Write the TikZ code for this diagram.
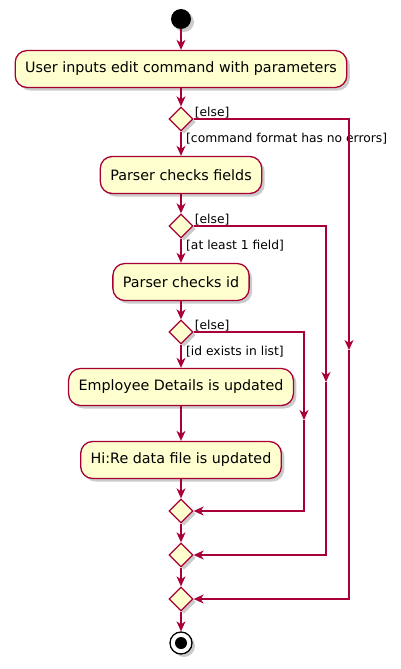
\documentclass[tikz,border=0pt]{standalone}
\usepackage{fontspec}
\setmainfont{DejaVu Sans}
\usetikzlibrary{arrows.meta, shapes.geometric, shadows}

\definecolor{umlred}{HTML}{A80036}
\definecolor{umlfill}{HTML}{FEFECE}

\tikzset{
  shade/.style={drop shadow={shadow xshift=3pt, shadow yshift=-3pt, fill=black!45, opacity=.45}},
  act/.style={draw=umlred, fill=umlfill, line width=1.3pt, rounded corners=12pt,
    minimum height=37pt, inner xsep=10pt, font=\fontsize{14.3}{16}\selectfont, shade},
  branch/.style={diamond, draw=umlred, fill=umlfill, line width=1.3pt,
    minimum size=24pt, inner sep=0pt, shade},
  guard/.style={font=\fontsize{12.3}{14}\selectfont, inner sep=1pt},
  flow/.style={draw=umlred, line width=1.3pt},
}

\begin{document}
\begin{tikzpicture}[x=1pt,y=-1pt,>={Stealth[length=10pt,width=9pt,inset=3pt]}]
  \useasboundingbox (0,0) rectangle (401,669);

  % 開始・終了
  \def\cx{181}
  \node(start) at (\cx,19) [circle, fill=black, minimum size=20pt, inner sep=0pt, shade] {};
  \node(stop) at (\cx,643) [circle, draw=black, fill=white, line width=1.3pt, minimum size=22pt, inner sep=0pt, shade] {};
  \fill (stop) circle[radius=6pt];

  % アクション
  \node(input) at (\cx,69) [act] {User inputs edit command with parameters};
  \node(fields) at (\cx,175) [act] {Parser checks fields};
  \node(idchk) at (\cx,282) [act] {Parser checks id};
  \node(emp) at (\cx,387) [act] {Employee Details is updated};
  \node(file) at (\cx,460) [act] {Hi:Re data file is updated};

  % 分岐・合流
  \node(ifcmd) at (\cx,119) [branch] {};
  \node(iffld) at (\cx,226) [branch] {};
  \node(ifid) at (\cx,332) [branch] {};
  \node(endid) at (\cx,511) [branch] {};
  \node(endfld) at (\cx,555) [branch] {};
  \node(endcmd) at (\cx,599) [branch] {};

  % 縦の流れ
  \draw[flow,->] (start) -- (input);
  \draw[flow,->] (input) -- (ifcmd);
  \draw[flow,->] (ifcmd) -- (fields);
  \draw[flow,->] (fields) -- (iffld);
  \draw[flow,->] (iffld) -- (idchk);
  \draw[flow,->] (idchk) -- (ifid);
  \draw[flow,->] (ifid) -- (emp);
  \draw[flow,->] (emp) -- (file);
  \draw[flow,->] (file) -- (endid);
  \draw[flow,->] (endid) -- (endfld);
  \draw[flow,->] (endfld) -- (endcmd);
  \draw[flow,->] (endcmd) -- (stop);

  % ガード
  \node at (ifcmd.east) [guard, above right] {[else]};
  \node at (ifcmd.south) [guard, below right, xshift=4pt] {[command format has no errors]};
  \node at (iffld.east) [guard, above right] {[else]};
  \node at (iffld.south) [guard, below right, xshift=4pt] {[at least 1 field]};
  \node at (ifid.east) [guard, above right] {[else]};
  \node at (ifid.south) [guard, below right, xshift=4pt] {[id exists in list]};

  % else の戻り線
  \coordinate(mcmd) at (349,350);
  \coordinate(mfld) at (326,382);
  \coordinate(mid) at (304,420);
  \draw[flow,->] (ifcmd.east) -| (mcmd);
  \draw[flow,->] (mcmd) |- (endcmd.east);
  \draw[flow,->] (iffld.east) -| (mfld);
  \draw[flow,->] (mfld) |- (endfld.east);
  \draw[flow,->] (ifid.east) -| (mid);
  \draw[flow,->] (mid) |- (endid.east);

\end{tikzpicture}
\end{document}
